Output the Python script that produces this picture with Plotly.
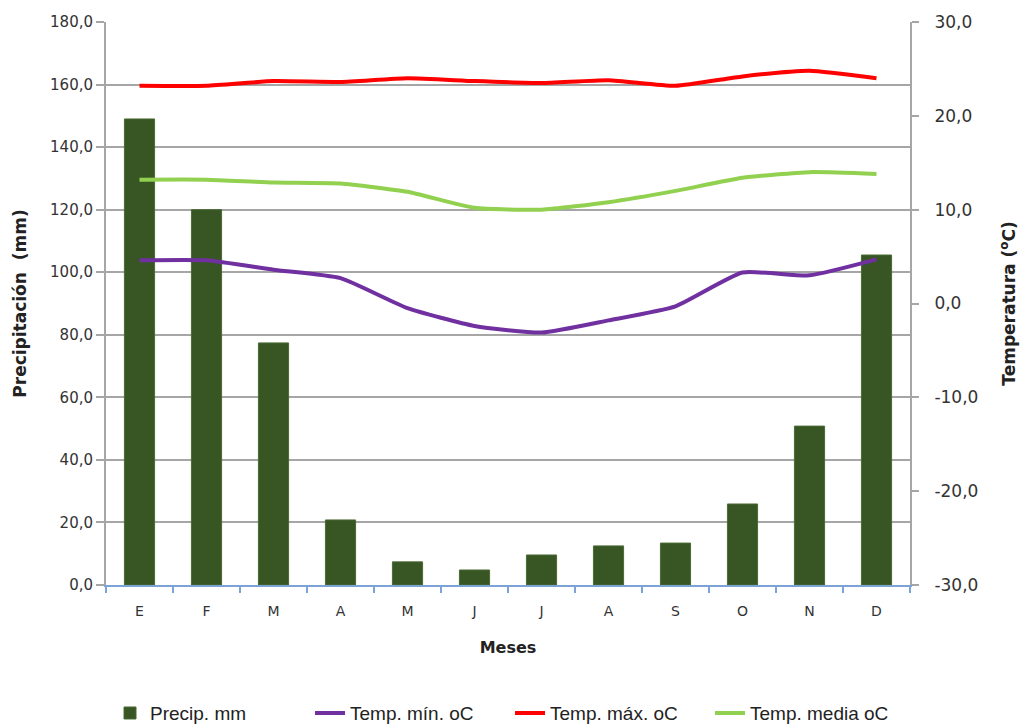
import plotly.graph_objects as go

meses = ["E", "F", "M", "A", "M", "J", "J", "A", "S", "O", "N", "D"]
precip_mm = [149.0, 120.0, 77.4, 20.8, 7.4, 4.8, 9.6, 12.5, 13.4, 25.9, 50.8, 105.5]
temp_min = [4.6, 4.6, 3.6, 2.7, -0.5, -2.4, -3.1, -1.8, -0.3, 3.3, 3.0, 4.7]
temp_max = [23.2, 23.2, 23.7, 23.6, 24.0, 23.7, 23.5, 23.8, 23.2, 24.2, 24.8, 24.0]
temp_media = [13.2, 13.2, 12.9, 12.8, 11.9, 10.2, 10.0, 10.8, 12.0, 13.4, 14.0, 13.8]

precip_ticks = [0, 20, 40, 60, 80, 100, 120, 140, 160, 180]
temp_ticks = [-30, -20, -10, 0, 10, 20, 30]

x = list(range(len(meses)))
font_axis = "DejaVu Sans"
font_legend = "Liberation Sans Narrow, Liberation Sans, Arial"


def fmt(v):
    # one decimal, comma separator, plain hyphen for negatives
    return f"{v:.1f}".replace(".", ",")


fig = go.Figure()
fig.add_trace(go.Bar(
    x=x, y=precip_mm, name="Precip. mm", width=0.45,
    marker=dict(color="#375623", line=dict(color="#4a6a34", width=1)),
    yaxis="y",
))
fig.add_trace(go.Scatter(
    x=x, y=temp_min, name="Temp. mín. oC", mode="lines",
    line=dict(color="#7030a0", width=4, shape="spline", smoothing=0.5),
    yaxis="y2",
))
fig.add_trace(go.Scatter(
    x=x, y=temp_max, name="Temp. máx. oC", mode="lines",
    line=dict(color="#ff0000", width=4, shape="spline", smoothing=0.5),
    yaxis="y2",
))
fig.add_trace(go.Scatter(
    x=x, y=temp_media, name="Temp. media oC", mode="lines",
    line=dict(color="#92d050", width=4, shape="spline", smoothing=0.5),
    yaxis="y2",
))

fig.update_layout(
    width=1020, height=724,
    margin=dict(l=106, r=110, t=22, b=139, autoexpand=False),
    plot_bgcolor="white", paper_bgcolor="white",
    showlegend=True,
    legend=dict(
        orientation="h",
        xref="container", x=0.5, xanchor="center",
        yref="container", y=0.015, yanchor="middle",
        font=dict(family=font_legend, size=19, color="#222222"),
        traceorder="normal", entrywidth=155, entrywidthmode="pixels",
    ),
    xaxis=dict(
        range=[-0.5, 11.5],
        tickmode="array", tickvals=x, ticktext=meses,
        showgrid=False, zeroline=False,
        showline=True, linecolor="#7ba3d8", linewidth=2,
        ticks="", ticklen=0, ticklabelstandoff=12,
        minor=dict(tick0=-0.5, dtick=1, ticks="outside", ticklen=6,
                   tickcolor="#7ba3d8", tickwidth=2, showgrid=False),
        tickfont=dict(family=font_axis, size=14, color="#333333"),
        title=dict(text="<b>Meses</b>", font=dict(family=font_axis, size=16, color="#222222"), standoff=24),
    ),
    yaxis=dict(
        range=[0, 180],
        tickmode="array", tickvals=precip_ticks, ticktext=[fmt(v) for v in precip_ticks],
        showgrid=True, gridcolor="#a6a6a6", gridwidth=2,
        zeroline=False,
        showline=True, linecolor="#a6a6a6", linewidth=2,
        ticks="outside", ticklen=8, tickcolor="#a6a6a6", tickwidth=2,
        tickfont=dict(family=font_axis, size=15, color="#333333"),
        title=dict(text="<b>Precipitación  (mm)</b>", font=dict(family=font_axis, size=17, color="#222222"), standoff=19),
    ),
    yaxis2=dict(
        range=[-30, 30],
        tickmode="array", tickvals=temp_ticks, ticktext=[fmt(v) for v in temp_ticks],
        overlaying="y", side="right",
        showgrid=False, zeroline=False,
        showline=True, linecolor="#a6a6a6", linewidth=2,
        ticks="outside", ticklen=7, tickcolor="#a6a6a6", tickwidth=2,
        ticklabelstandoff=12,
        tickfont=dict(family=font_axis, size=17, color="#333333"),
        title=dict(text="<b>Temperatura (<sup>o</sup>C)</b>", font=dict(family=font_axis, size=17, color="#222222"), standoff=26),
    ),
)

fig.write_html("out.html")
